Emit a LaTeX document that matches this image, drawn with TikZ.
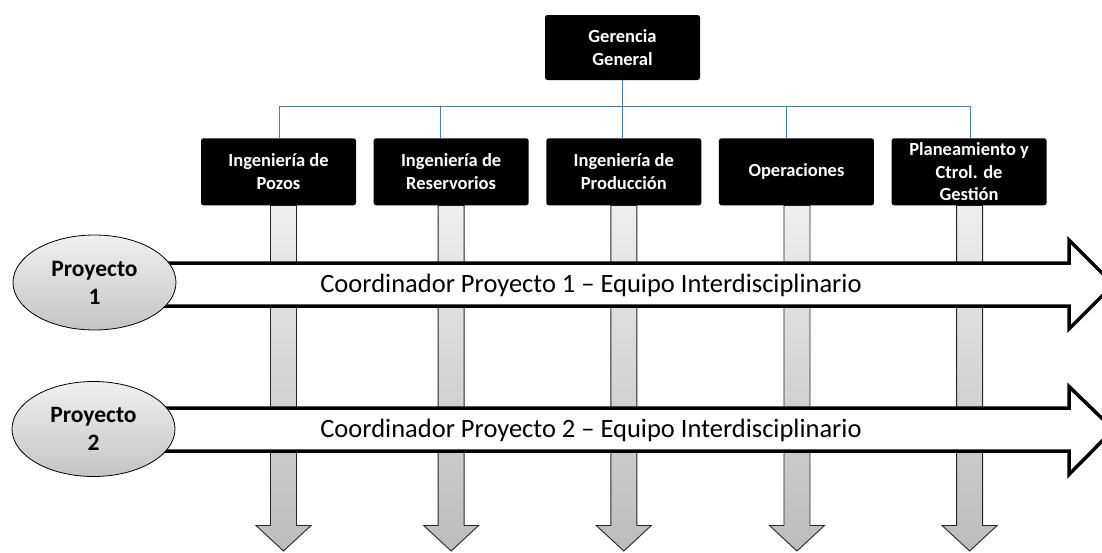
\documentclass[tikz,border=0pt]{standalone}
\usepackage{fontspec}
\setmainfont{Carlito}
\usepackage{tikz}
\usepackage{xcolor}
\usetikzlibrary{positioning}
\usetikzlibrary{calc}
\usetikzlibrary{shapes.geometric}
\definecolor{lineBlue}{RGB}{74,126,187}
\definecolor{colTop}{RGB}{238,238,238}
\definecolor{colBottom}{RGB}{188,188,188}
\definecolor{ellTop}{RGB}{240,240,240}
\definecolor{ellBottom}{RGB}{196,196,196}
\pgfdeclarelayer{background}
\pgfsetlayers{background,main}

\begin{document}
\begin{tikzpicture}[x=1pt,y=-1pt,
  unitBox/.style={fill=black, rounded corners=2.5pt, minimum width=155pt,
    minimum height=67pt, inner sep=0pt, text=white, align=center,
    font=\fontsize{18.5}{22.5}\selectfont\bfseries},
  orgLine/.style={lineBlue, line width=1.3pt},
  projEllipse/.style={ellipse, draw=black, line width=0.8pt, top color=ellTop,
    bottom color=ellBottom, minimum width=163pt, minimum height=95pt,
    inner sep=0pt, align=center, font=\fontsize{23.5}{28}\selectfont\bfseries},
  bigArrow/.style={draw=black, fill=white, line width=3.5pt, miter limit=10},
  colArrow/.style={draw=black!85, line width=0.9pt, top color=colTop,
    bottom color=colBottom},
  coordText/.style={anchor=base, font=\fontsize{26.5}{30}\selectfont}
]
\useasboundingbox (0,0) rectangle (1102,552);
\newcommand\DownCol[2]{%
  \path[colArrow] ([xshift=#2-13]#1.south) -- ++(0,320) -- ++(-14.5,0)
    -- ++(27.5,25.5) -- ++(27.5,-25.5) -- ++(-14.5,0) -- ++(0,-320) -- cycle;}

% organigrama
\node [unitBox, minimum height=65pt] (gerencia) at (622.5,47.5) {Gerencia\\General};
\node [unitBox] (pozos) at (278.5,171.8) {Ingeniería de\\Pozos};
\node [unitBox, right=17.25pt of pozos] (reservorios) {Ingeniería de\\Reservorios};
\node [unitBox, right=17.25pt of reservorios] (produccion) {Ingeniería de\\Producción};
\node [unitBox, right=17.25pt of produccion] (operaciones) {Operaciones};
\node [unitBox, right=17.25pt of operaciones] (planeamiento) {Planeamiento y\\Ctrol. de\\Gestión};

\coordinate (bus) at (0,106.7);
\foreach \d/\s in {pozos/1,reservorios/-10.5,produccion/-1.5,operaciones/-10,planeamiento/1.5}
  \draw [orgLine] (gerencia.south) |- ([xshift=\s]\d.north |- bus) -- ([xshift=\s]\d.north);

\begin{pgfonlayer}{background}
\DownCol{pozos}{5}
\DownCol{reservorios}{0}
\DownCol{produccion}{0}
\DownCol{operaciones}{0.5}
\DownCol{planeamiento}{0.5}
\end{pgfonlayer}

% proyectos
\draw [bigArrow] (150,263) -- (1069,263) -- (1069,240) -- (1113.5,284.5)
  -- (1069,329) -- (1069,306) -- (150,306) -- cycle;
\draw [bigArrow] (150,408) -- (1069,408) -- (1069,386.5) -- (1113.5,429.5)
  -- (1069,474.5) -- (1069,451) -- (150,451) -- cycle;
\node [coordText] (coord1) at (591,292.3) {Coordinador Proyecto 1 – Equipo Interdisciplinario};
\node [coordText] (coord2) at (591,437.3) {Coordinador Proyecto 2 – Equipo Interdisciplinario};

\node [projEllipse] (proy1) at (94.5,282.5) {Proyecto\\1};
\node [projEllipse] (proy2) at (93.5,429) {Proyecto\\2};
\end{tikzpicture}
\end{document}
